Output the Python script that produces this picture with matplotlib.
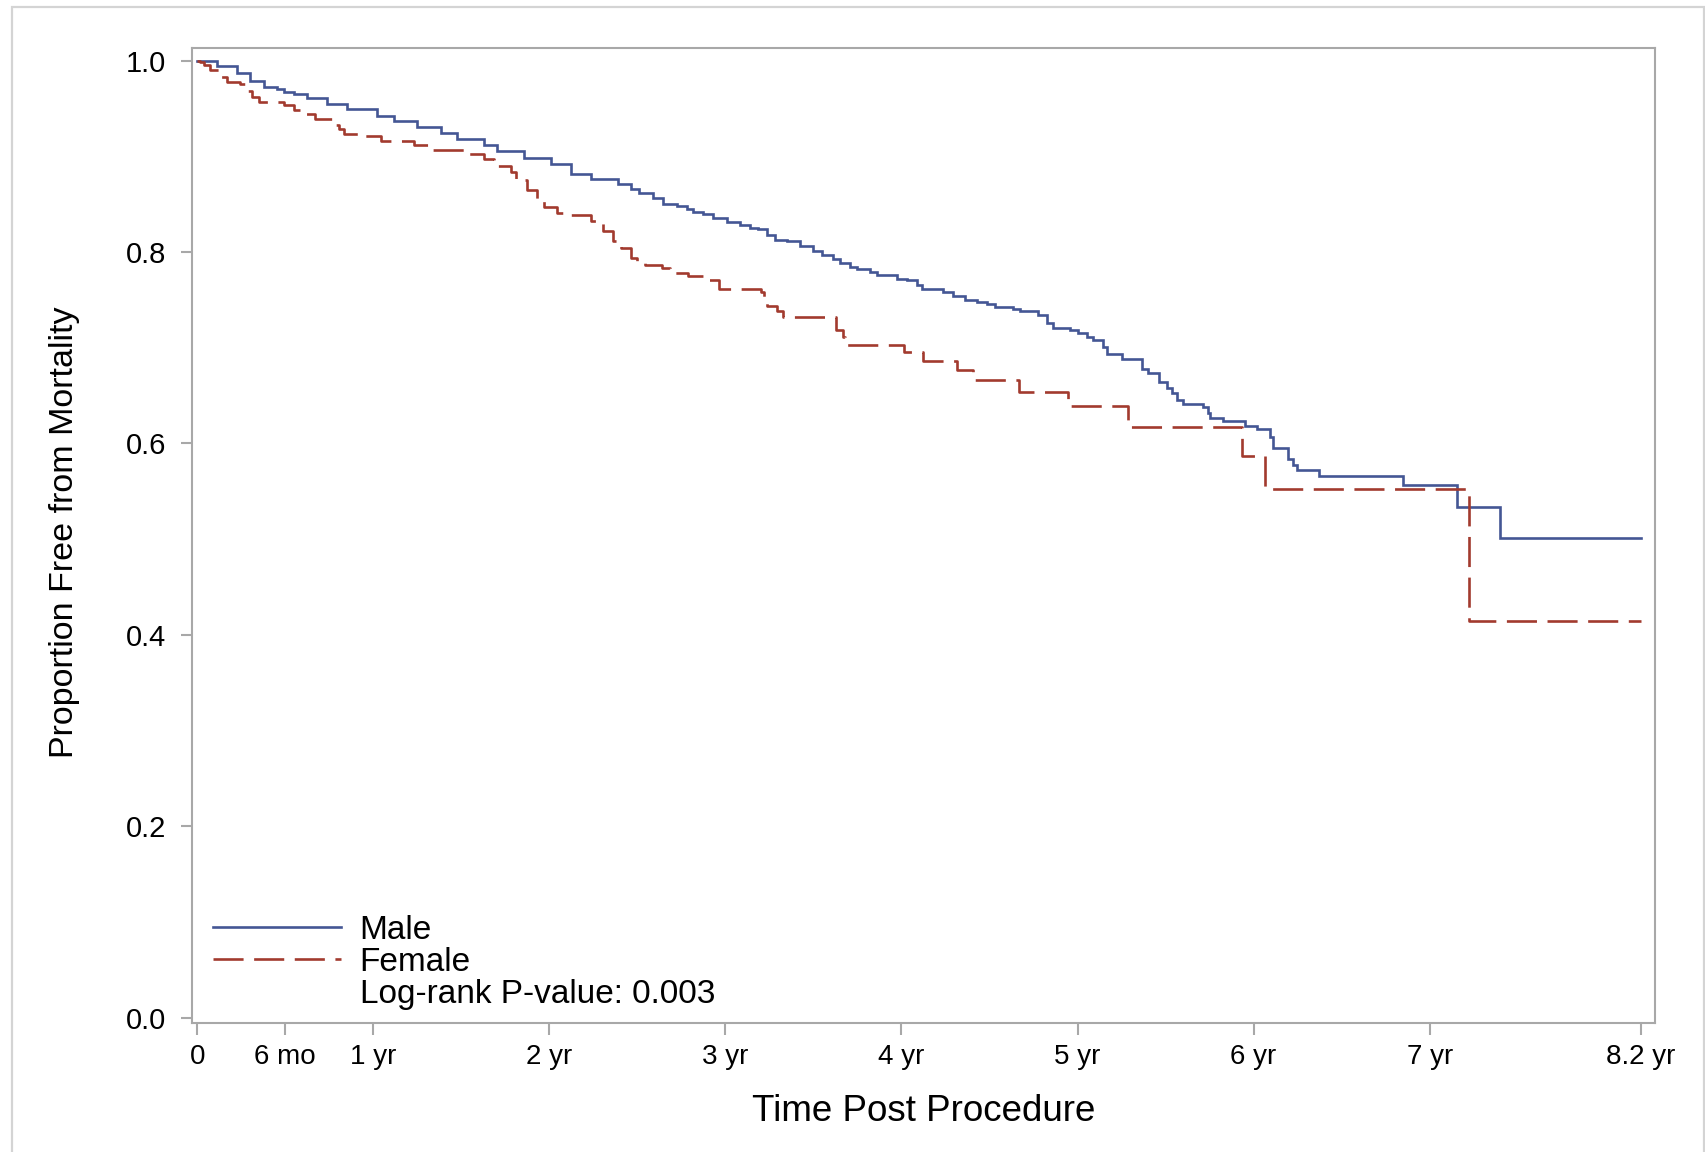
import matplotlib
matplotlib.use("Agg")
import matplotlib.pyplot as plt
from matplotlib.lines import Line2D
from matplotlib.patches import Rectangle

plt.rcParams['font.family'] = ['Liberation Sans', 'DejaVu Sans']

# ---- data (Kaplan-Meier step estimates) ----
male_t = [0.000, 0.112, 0.226, 0.301, 0.377, 0.453, 0.491, 0.548, 0.624, 0.738,
          0.851, 1.022, 1.117, 1.250, 1.382, 1.477, 1.629, 1.705, 1.856, 2.008,
          2.122, 2.235, 2.387, 2.463, 2.510, 2.590, 2.647, 2.723, 2.780, 2.817,
          2.874, 2.931, 3.007, 3.082, 3.139, 3.187, 3.234, 3.281, 3.348, 3.423,
          3.499, 3.546, 3.613, 3.650, 3.707, 3.745, 3.821, 3.859, 3.972, 4.029,
          4.086, 4.114, 4.237, 4.294, 4.360, 4.427, 4.484, 4.531, 4.635, 4.673,
          4.777, 4.824, 4.862, 4.957, 5.004, 5.051, 5.089, 5.146, 5.165, 5.250,
          5.364, 5.402, 5.464, 5.506, 5.534, 5.563, 5.597, 5.710, 5.743, 5.752,
          5.828, 5.951, 6.017, 6.093, 6.112, 6.197, 6.225, 6.248, 6.371, 6.850,
          7.153, 7.399, 8.200]
male_s = [1.000, 0.994, 0.987, 0.979, 0.972, 0.970, 0.967, 0.965, 0.961, 0.955,
          0.949, 0.942, 0.937, 0.931, 0.924, 0.918, 0.912, 0.906, 0.898, 0.892,
          0.881, 0.876, 0.871, 0.866, 0.862, 0.856, 0.850, 0.848, 0.845, 0.842,
          0.840, 0.835, 0.831, 0.828, 0.825, 0.824, 0.818, 0.812, 0.811, 0.806,
          0.801, 0.797, 0.793, 0.788, 0.784, 0.782, 0.779, 0.776, 0.772, 0.771,
          0.766, 0.761, 0.758, 0.754, 0.750, 0.748, 0.746, 0.743, 0.740, 0.738,
          0.734, 0.726, 0.721, 0.718, 0.715, 0.711, 0.708, 0.701, 0.693, 0.688,
          0.678, 0.674, 0.664, 0.658, 0.653, 0.645, 0.641, 0.638, 0.632, 0.627,
          0.623, 0.618, 0.615, 0.607, 0.595, 0.584, 0.577, 0.572, 0.566, 0.557,
          0.534, 0.501, 0.501]

female_t = [0.000, 0.015, 0.036, 0.074, 0.131, 0.169, 0.245, 0.283, 0.311, 0.349,
            0.491, 0.548, 0.586, 0.671, 0.775, 0.804, 0.832, 0.946, 1.041, 1.231,
            1.325, 1.515, 1.629, 1.686, 1.780, 1.809, 1.875, 1.932, 1.970, 2.046,
            2.103, 2.235, 2.302, 2.359, 2.406, 2.463, 2.500, 2.543, 2.638, 2.685,
            2.789, 2.906, 2.961, 3.200, 3.219, 3.234, 3.291, 3.325, 3.628, 3.669,
            3.679, 4.014, 4.120, 4.313, 4.408, 4.667, 4.947, 5.288, 5.936, 6.066,
            7.223, 8.200]
female_s = [1.000, 0.998, 0.995, 0.990, 0.983, 0.978, 0.975, 0.968, 0.962, 0.957,
            0.954, 0.948, 0.944, 0.939, 0.933, 0.928, 0.923, 0.921, 0.916, 0.912,
            0.907, 0.902, 0.897, 0.890, 0.884, 0.875, 0.865, 0.855, 0.847, 0.841,
            0.839, 0.832, 0.822, 0.811, 0.804, 0.794, 0.790, 0.786, 0.783, 0.778,
            0.775, 0.771, 0.761, 0.758, 0.753, 0.744, 0.738, 0.732, 0.718, 0.711,
            0.703, 0.696, 0.686, 0.677, 0.666, 0.654, 0.639, 0.617, 0.587, 0.552,
            0.414, 0.414]

x_ticks = [0, 0.5, 1, 2, 3, 4, 5, 6, 7, 8.2]
x_ticklabels = ["0", "6 mo", "1 yr", "2 yr", "3 yr", "4 yr", "5 yr", "6 yr", "7 yr", "8.2 yr"]
y_ticks = [0.0, 0.2, 0.4, 0.6, 0.8, 1.0]
y_ticklabels = ["0.0", "0.2", "0.4", "0.6", "0.8", "1.0"]
p_value_text = "Log-rank P-value: 0.003"

BLUE = "#445694"
RED = "#A23A2E"
AXIS_GRAY = "#a8a8a8"

W, H = 1706, 1152
fig = plt.figure(figsize=(W / 100, H / 100), dpi=100)
fig.patch.set_facecolor("white")

# outer light frame (top, left, right)
fig.add_artist(Rectangle((12 / W, -0.05), (1704 - 12) / W, 1.05 - 7 / H,
                         transform=fig.transFigure, fill=False,
                         edgecolor="#d4d4d4", linewidth=1.6))

left, right = 192 / W, 1655 / W
top, bottom = 1 - 47.7 / H, 1 - 1022.7 / H
ax = fig.add_axes([left, bottom, right - left, top - bottom])

ax.plot(male_t, male_s, drawstyle="steps-post", color=BLUE, linewidth=1.9,
        label="Male", solid_joinstyle="miter")
ax.plot(female_t, female_s, drawstyle="steps-post", color=RED, linewidth=1.9,
        dashes=(11.4, 4.0), label="Female")

ax.set_xlim(-0.030, 8.280)
ax.set_ylim(-0.0052, 1.0134)

ax.set_xticks(x_ticks)
ax.set_xticklabels(x_ticklabels)
ax.set_yticks(y_ticks)
ax.set_yticklabels(y_ticklabels)

for sp in ax.spines.values():
    sp.set_color(AXIS_GRAY)
    sp.set_linewidth(1.5)

ax.tick_params(axis="both", colors=AXIS_GRAY, labelcolor="black", width=1.5)
ax.tick_params(axis="x", length=8.5, pad=7, labelsize=20)
ax.tick_params(axis="y", length=8, pad=10.5, labelsize=21)

ax.set_xlabel("Time Post Procedure", fontsize=26.5, labelpad=17)
ax.set_ylabel("Proportion Free from Mortality", fontsize=24.5)
ax.yaxis.set_label_coords(-0.0766, 0.503)

handles = [Line2D([], [], color=BLUE, linewidth=1.9),
           Line2D([], [], color=RED, linewidth=1.9, dashes=(11.4, 4.0)),
           Line2D([], [], color="none")]
labels = ["Male", "Female", p_value_text]
leg = ax.legend(handles, labels, loc="lower left", frameon=False,
                fontsize=24, handlelength=3.85, handletextpad=0.55,
                labelspacing=0.03, borderpad=0, borderaxespad=0,
                bbox_to_anchor=((213 - 192) / 1463, (1022.7 - 1010) / 975))

fig.savefig("out.png", dpi=100, facecolor="white")
